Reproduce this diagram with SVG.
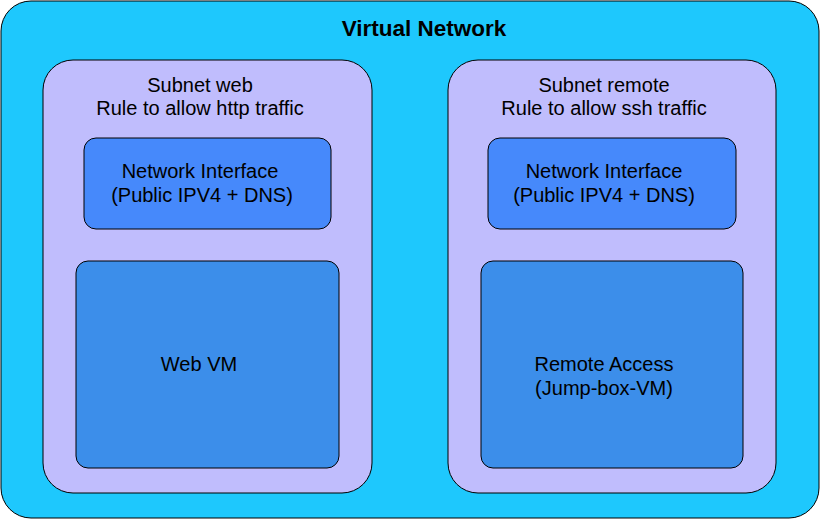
<svg xmlns="http://www.w3.org/2000/svg" width="820" height="520" viewBox="0 0 820 520">
<style>
text{font-family:"Liberation Sans",Arial,sans-serif;font-size:20px;fill:#000;text-anchor:middle}
.title{font-weight:bold;font-size:22.5px}
.vnet{fill:#1ec8fd;stroke:#000;stroke-width:1}
.subnet{fill:#c0bdfd;stroke:#000;stroke-width:1}
.nic{fill:#4689fb;stroke:#000;stroke-width:1}
.vm{fill:#3c8eea;stroke:#000;stroke-width:1}
</style>
<g id="vnet">
<rect class="vnet" x="1" y="1" width="818" height="517" rx="30"/>
<text class="title" x="424" y="36">Virtual Network</text>
</g>
<g id="subnet-web">
<rect class="subnet" x="43" y="60" width="329" height="433" rx="30"/>
<text x="200" y="92">Subnet web</text>
<text x="200" y="115">Rule to allow http traffic</text>
</g>
<g id="subnet-remote">
<rect class="subnet" x="448" y="60" width="328" height="433" rx="30"/>
<text x="604" y="92">Subnet remote</text>
<text x="604" y="115">Rule to allow ssh traffic</text>
</g>
<g id="nic-web">
<rect class="nic" x="84" y="138" width="247" height="91" rx="12"/>
<text x="200" y="178">Network Interface</text>
<text x="202" y="202">(Public IPV4 + DNS)</text>
</g>
<g id="nic-remote">
<rect class="nic" x="488" y="138" width="248" height="91" rx="12"/>
<text x="604" y="178">Network Interface</text>
<text x="604" y="202">(Public IPV4 + DNS)</text>
</g>
<g id="vm-web">
<rect class="vm" x="76" y="261" width="263" height="207" rx="12"/>
<text x="199" y="371">Web VM</text>
</g>
<g id="vm-remote">
<rect class="vm" x="481" y="261" width="262" height="207" rx="12"/>
<text x="604" y="371">Remote Access</text>
<text x="604" y="395">(Jump-box-VM)</text>
</g>
<g id="connectors"></g>
</svg>
